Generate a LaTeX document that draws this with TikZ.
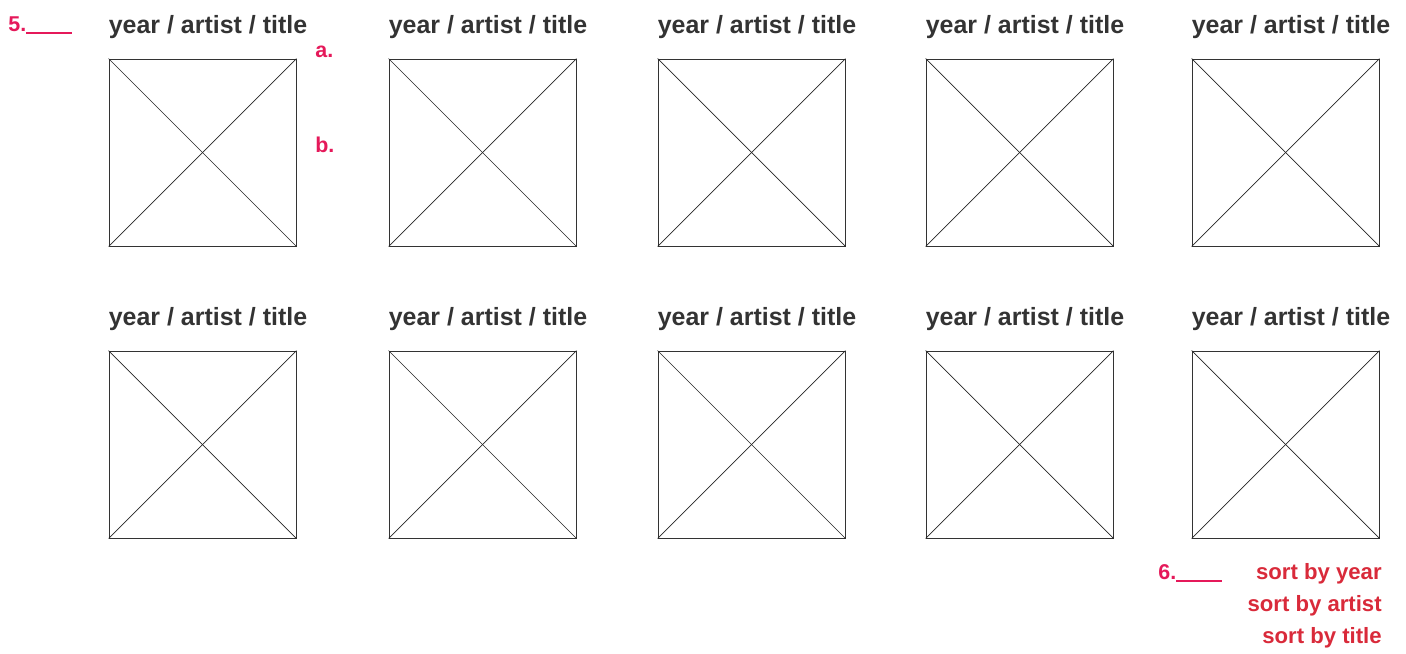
\documentclass[tikz,border=0pt]{standalone}
\usepackage{fontspec}
\setmainfont{Liberation Sans}
\usepackage{xcolor}
\usetikzlibrary{positioning}

\definecolor{inkgray}{HTML}{333333}
\definecolor{markred}{HTML}{E5195A}
\definecolor{sortred}{HTML}{D92A3A}

\begin{document}
\begin{tikzpicture}[
			x=0.02cm, y=-0.02cm,
			thumb/.style={rectangle, draw=black!80, line width=0.5pt, minimum width=3.74cm, minimum height=3.74cm, inner sep=0pt},
			cross/.style={draw=black!85, line width=0.4pt},
			caption/.style={font=\bfseries\fontsize{14.2}{17}\selectfont, text=inkgray, inner sep=0pt, anchor=base},
			marker/.style={font=\bfseries\fontsize{12.2}{15}\selectfont, text=markred, inner sep=0pt, anchor=base west},
			sorter/.style={font=\bfseries\fontsize{12.6}{15}\selectfont, text=sortred, inner sep=0pt, anchor=base east}
			]
			\useasboundingbox (0,0) rectangle (1406,653);
			
			% Cover grid
			\foreach \row/\cy in {1/152.5, 2/444.5} {
				\foreach \col/\cx in {1/202.5, 2/482.5, 3/751.5, 4/1019.5, 5/1285.5} {
					\node (cover\row\col) [thumb] at (\cx,\cy) {};
					\draw [cross] (cover\row\col.north west) -- (cover\row\col.south east);
					\draw [cross] (cover\row\col.north east) -- (cover\row\col.south west);
					\node (caption\row\col) [caption] at (\cx+5.5,\cy-119) {year / artist / title};
				}
			}
			
			% Annotations
			\node (note5) [marker] at (8,31) {5.\rule[-0.05cm]{0.92cm}{0.6pt}};
			\node (notea) [marker] at (315,57) {a.};
			\node (noteb) [marker] at (315,152) {b.};
			\node (note6) [marker] at (1158,579) {6.\rule[-0.05cm]{0.92cm}{0.6pt}};
			
			% Sort options
			\node (sortyear) [sorter] at (1382,579) {sort by year};
			\node (sortartist) [sorter] at (1382,611) {sort by artist};
			\node (sorttitle) [sorter] at (1382,643) {sort by title};
		\end{tikzpicture}
\end{document}
